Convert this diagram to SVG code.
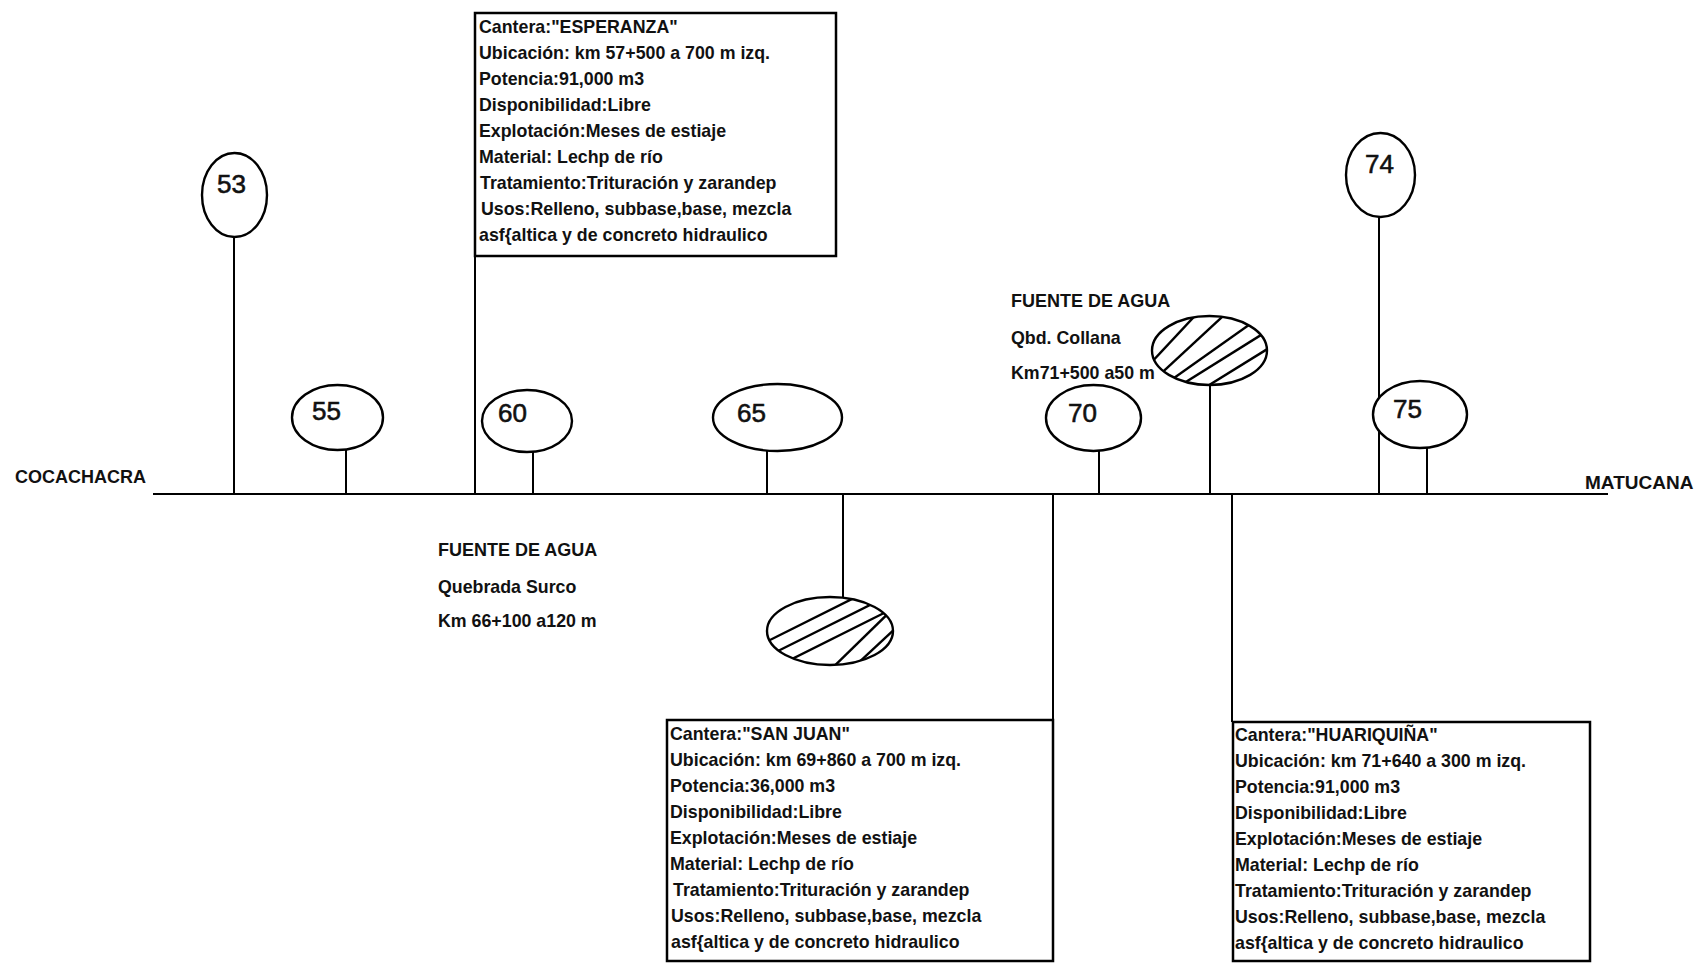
<svg xmlns="http://www.w3.org/2000/svg" width="1697" height="963" viewBox="0 0 1697 963">
<style>
  .ln { stroke: #000; stroke-width: 2; fill: none; }
  .box { stroke: #000; stroke-width: 2.5; fill: none; }
  .mk { stroke: #000; stroke-width: 2.4; fill: #fff; }
  .hatch { stroke: #000; stroke-width: 2.4; fill: none; }
  .num { font-family: "Liberation Sans", Arial, sans-serif; font-size: 26px; fill: #111; stroke: #111; stroke-width: 0.6; }
  .t { font-family: "Liberation Sans", Arial, sans-serif; font-size: 17.8px; font-weight: bold; fill: #111; }
  .lbl { font-family: "Liberation Sans", Arial, sans-serif; font-size: 18px; font-weight: bold; fill: #111; }
</style>
<defs>
  <clipPath id="clipA"><ellipse cx="830" cy="631" rx="63" ry="34"/></clipPath>
  <clipPath id="clipB"><ellipse cx="1209.5" cy="350.5" rx="57.5" ry="34.5"/></clipPath>
</defs>
<rect width="1697" height="963" fill="#fff"/>

<g id="connectors">
  <line class="ln" x1="153" y1="494" x2="1608" y2="494"/>
  <line class="ln" x1="234" y1="237" x2="234" y2="494"/>
  <line class="ln" x1="346" y1="450" x2="346" y2="494"/>
  <line class="ln" x1="533" y1="452" x2="533" y2="494"/>
  <line class="ln" x1="475" y1="13" x2="475" y2="494"/>
  <line class="ln" x1="767" y1="451" x2="767" y2="494"/>
  <line class="ln" x1="843" y1="494" x2="843" y2="597"/>
  <line class="ln" x1="1099" y1="451" x2="1099" y2="494"/>
  <line class="ln" x1="1053" y1="494" x2="1053" y2="720"/>
  <line class="ln" x1="1210" y1="385" x2="1210" y2="494"/>
  <line class="ln" x1="1232" y1="494" x2="1232" y2="722"/>
  <line class="ln" x1="1379" y1="217" x2="1379" y2="494"/>
  <line class="ln" x1="1427" y1="448" x2="1427" y2="494"/>
</g>

<g id="label-cocachacra"><text class="lbl" x="15" y="483">COCACHACRA</text></g>
<g id="label-matucana"><text class="lbl" x="1585" y="489" style="font-size:19px">MATUCANA</text></g>

<g id="km53"><ellipse class="mk" cx="234.5" cy="195" rx="32.5" ry="42"/><text class="num" x="217" y="193">53</text></g>
<g id="km55"><ellipse class="mk" cx="337.5" cy="417.5" rx="45.5" ry="32.5"/><text class="num" x="312" y="420">55</text></g>
<g id="km60"><ellipse class="mk" cx="527" cy="421" rx="45" ry="31"/><text class="num" x="498" y="422">60</text></g>
<g id="km65"><ellipse class="mk" cx="777.5" cy="417.5" rx="64.5" ry="33.5"/><text class="num" x="737" y="422">65</text></g>
<g id="km70"><ellipse class="mk" cx="1093.5" cy="418" rx="47.5" ry="33"/><text class="num" x="1068" y="422">70</text></g>
<g id="km74"><ellipse class="mk" cx="1380.5" cy="175" rx="34.5" ry="42"/><text class="num" x="1365" y="173">74</text></g>
<g id="km75"><ellipse class="mk" cx="1420" cy="414.5" rx="47" ry="33.5"/><text class="num" x="1393" y="418">75</text></g>

<g id="fuente-surco">
  <text class="lbl" x="438" y="556">FUENTE DE AGUA</text>
  <text class="t" x="438" y="593">Quebrada Surco</text>
  <text class="t" x="438" y="627">Km 66+100 a120 m</text>
  <ellipse class="hatch" cx="830" cy="631" rx="63" ry="34"/>
  <g clip-path="url(#clipA)" class="hatch">
    <line x1="740" y1="655" x2="900" y2="575"/>
    <line x1="748" y1="666" x2="908" y2="586"/>
    <line x1="760" y1="675" x2="920" y2="595"/>
    <line x1="820" y1="680" x2="905" y2="597"/>
    <line x1="840" y1="680" x2="915" y2="610"/>
  </g>
</g>

<g id="fuente-collana">
  <text class="lbl" x="1011" y="307">FUENTE DE AGUA</text>
  <text class="t" x="1011" y="344">Qbd. Collana</text>
  <text class="t" x="1011" y="379">Km71+500 a50 m</text>
  <ellipse class="hatch" cx="1209.5" cy="350.5" rx="57.5" ry="34.5"/>
  <g clip-path="url(#clipB)" class="hatch">
    <line x1="1135" y1="380" x2="1205" y2="305"/>
    <line x1="1140" y1="393" x2="1235" y2="305"/>
    <line x1="1150" y1="395" x2="1270" y2="310"/>
    <line x1="1165" y1="395" x2="1285" y2="320"/>
    <line x1="1185" y1="400" x2="1290" y2="335"/>
  </g>
</g>

<g id="cantera-esperanza">
  <rect class="box" x="475" y="13" width="361" height="243"/>
  <text class="t" x="479" y="33">Cantera:"ESPERANZA"</text>
  <text class="t" x="479" y="59">Ubicación: km 57+500 a 700 m izq.</text>
  <text class="t" x="479" y="85">Potencia:91,000 m3</text>
  <text class="t" x="479" y="111">Disponibilidad:Libre</text>
  <text class="t" x="479" y="137">Explotación:Meses de estiaje</text>
  <text class="t" x="479" y="163">Material: Lechp de río</text>
  <text class="t" x="480" y="189">Tratamiento:Trituración y zarandep</text>
  <text class="t" x="481" y="215">Usos:Relleno, subbase,base, mezcla</text>
  <text class="t" x="479" y="241">asf{altica y de concreto hidraulico</text>
</g>

<g id="cantera-san-juan">
  <rect class="box" x="667" y="720" width="386" height="241"/>
  <text class="t" x="670" y="740">Cantera:"SAN JUAN"</text>
  <text class="t" x="670" y="766">Ubicación: km 69+860 a 700 m izq.</text>
  <text class="t" x="670" y="792">Potencia:36,000 m3</text>
  <text class="t" x="670" y="818">Disponibilidad:Libre</text>
  <text class="t" x="670" y="844">Explotación:Meses de estiaje</text>
  <text class="t" x="670" y="870">Material: Lechp de río</text>
  <text class="t" x="673" y="896">Tratamiento:Trituración y zarandep</text>
  <text class="t" x="671" y="922">Usos:Relleno, subbase,base, mezcla</text>
  <text class="t" x="671" y="948">asf{altica y de concreto hidraulico</text>
</g>

<g id="cantera-huariquina">
  <rect class="box" x="1233" y="722" width="357" height="239"/>
  <text class="t" x="1235" y="741">Cantera:"HUARIQUIÑA"</text>
  <text class="t" x="1235" y="767">Ubicación: km 71+640 a 300 m izq.</text>
  <text class="t" x="1235" y="793">Potencia:91,000 m3</text>
  <text class="t" x="1235" y="819">Disponibilidad:Libre</text>
  <text class="t" x="1235" y="845">Explotación:Meses de estiaje</text>
  <text class="t" x="1235" y="871">Material: Lechp de río</text>
  <text class="t" x="1235" y="897">Tratamiento:Trituración y zarandep</text>
  <text class="t" x="1235" y="923">Usos:Relleno, subbase,base, mezcla</text>
  <text class="t" x="1235" y="949">asf{altica y de concreto hidraulico</text>
</g>
</svg>
